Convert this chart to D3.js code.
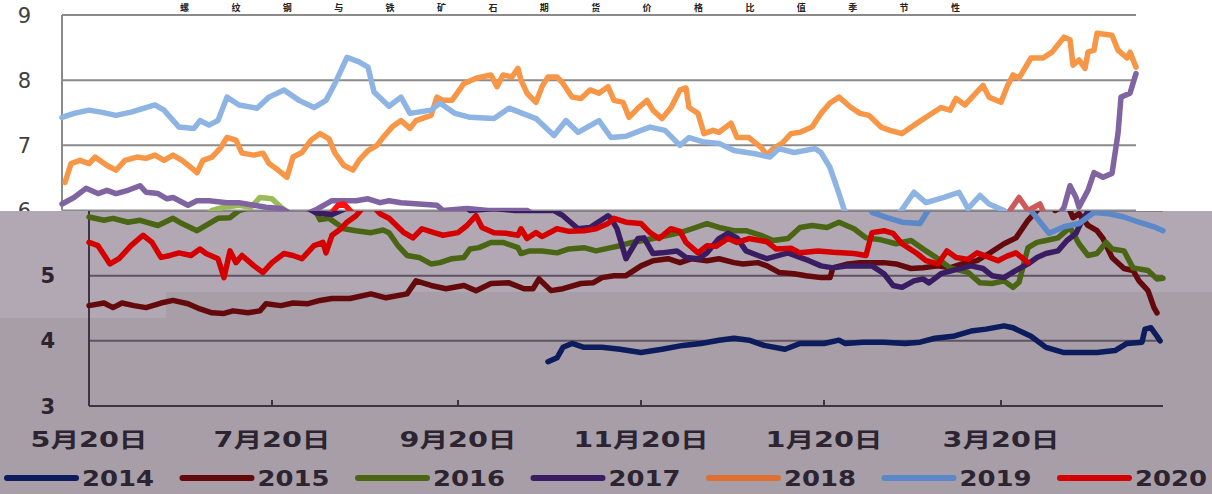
<!DOCTYPE html>
<html><head><meta charset="utf-8">
<script src="https://cdn.jsdelivr.net/npm/d3@7"></script>
<style>html,body{margin:0;padding:0;background:#fff;}svg{display:block;}</style>
</head><body><svg id="c" width="1212" height="494"></svg>
<script>
// ---- data (day offset from 5月20日, value) ----
const years = ["2014","2015","2016","2017","2018","2019","2020"];
const xTickDays = [0,61,123,184,245,304];
const xTickLabels = ["5月20日","7月20日","9月20日","11月20日","1月20日","3月20日"];
const yTicksTop = [6,7,8,9];
const yTicksBottom = [3,4,5];
const titleText = "螺纹钢与铁矿石期货价格比值季节性";

const s2014 = [[153,3.68],[156,3.74],[158,3.9],[161,3.96],[165,3.9],[171,3.9],[177,3.87],[184,3.82],[191,3.87],[198,3.93],[204,3.96],[210,4.01],[215,4.04],[220,4.01],[225,3.93],[232,3.87],[237,3.96],[245,3.96],[250,4.01],[252,3.96],[258,3.98],[265,3.98],[272,3.96],[277,3.98],[282,4.04],[288,4.07],[294,4.15],[299,4.18],[305,4.23],[308,4.2],[314,4.07],[319,3.9],[325,3.82],[331,3.82],[336,3.82],[342,3.85],[346,3.96],[351,3.98],[352,4.18],[354,4.2],[356,4.07],[357,4.0]];
const s2015 = [[0,4.54],[5,4.58],[8,4.51],[11,4.58],[15,4.54],[19,4.51],[24,4.58],[28,4.62],[33,4.57],[37,4.49],[41,4.43],[45,4.42],[48,4.46],[53,4.43],[57,4.46],[59,4.57],[64,4.54],[68,4.58],[73,4.57],[77,4.62],[81,4.65],[87,4.65],[94,4.72],[99,4.66],[106,4.72],[109,4.92],[114,4.85],[119,4.8],[125,4.85],[129,4.77],[134,4.88],[140,4.89],[145,4.8],[148,4.8],[150,4.95],[154,4.77],[158,4.8],[164,4.88],[168,4.89],[171,4.97],[175,5.0],[179,5.0],[184,5.15],[188,5.23],[193,5.26],[197,5.2],[201,5.26],[206,5.23],[210,5.26],[215,5.2],[218,5.18],[223,5.2],[226,5.15],[230,5.05],[235,5.03],[239,5.0],[244,4.97],[247,4.97],[248,5.12],[253,5.18],[257,5.2],[261,5.2],[265,5.2],[269,5.18],[274,5.11],[278,5.12],[283,5.15],[287,5.12],[291,5.18],[296,5.23],[300,5.34],[305,5.49],[309,5.58],[313,5.85],[316,6.0],[319,6.2],[322,6.0],[326,6.1],[328,5.89],[330,5.95],[333,5.77],[336,5.69],[338,5.57],[341,5.28],[345,5.11],[348,5.08],[350,4.92],[353,4.77],[355,4.51],[356,4.43]];
const s2016 = [[0,5.9],[5,5.85],[8,5.88],[13,5.82],[17,5.85],[23,5.77],[28,5.88],[31,5.8],[36,5.69],[39,5.77],[43,5.88],[47,5.89],[50,6.0],[54,6.05],[59,6.08],[63,6.05],[66,6.2],[70,6.18],[73,6.05],[76,5.95],[77,5.86],[80,5.88],[85,5.72],[89,5.69],[94,5.66],[98,5.7],[100,5.66],[103,5.46],[106,5.31],[110,5.28],[114,5.18],[117,5.2],[121,5.26],[125,5.28],[127,5.41],[130,5.43],[134,5.51],[138,5.51],[143,5.43],[144,5.34],[147,5.38],[151,5.38],[156,5.35],[160,5.41],[165,5.43],[169,5.38],[174,5.43],[177,5.46],[181,5.51],[188,5.57],[193,5.62],[197,5.66],[201,5.72],[206,5.8],[210,5.74],[215,5.69],[219,5.69],[224,5.62],[228,5.54],[233,5.57],[237,5.74],[241,5.77],[246,5.74],[250,5.82],[255,5.72],[259,5.58],[264,5.55],[269,5.49],[274,5.54],[279,5.38],[283,5.26],[287,5.12],[293,5.05],[297,4.89],[301,4.88],[305,4.92],[308,4.82],[310,4.9],[313,5.43],[316,5.51],[319,5.54],[323,5.58],[327,5.74],[330,5.49],[333,5.31],[336,5.34],[339,5.51],[341,5.41],[345,5.38],[348,5.12],[353,5.08],[356,4.95],[358,4.96]];
const s2017 = [[0,6.1],[4,6.2],[8,6.34],[12,6.26],[15,6.31],[18,6.26],[22,6.31],[26,6.38],[28,6.28],[32,6.26],[35,6.18],[37,6.2],[42,6.08],[45,6.15],[49,6.15],[55,6.12],[59,6.12],[64,6.08],[68,6.05],[73,6.03],[76,5.96],[81,5.94],[85,6.02],[90,6.15],[98,6.15],[102,6.18],[106,6.12],[109,6.15],[113,6.12],[119,6.1],[125,6.08],[127,6.0],[135,6.03],[142,6.0],[146,6.0],[155,6.0],[158,5.92],[163,5.72],[167,5.74],[173,5.92],[174,5.88],[176,5.72],[179,5.26],[183,5.57],[185,5.58],[188,5.34],[191,5.35],[196,5.38],[199,5.28],[203,5.26],[206,5.35],[210,5.57],[213,5.65],[216,5.58],[219,5.38],[223,5.31],[226,5.26],[233,5.35],[237,5.28],[240,5.23],[244,5.15],[248,5.12],[253,5.15],[261,5.15],[265,5.03],[268,4.85],[271,4.82],[275,4.92],[278,4.95],[280,4.89],[284,5.03],[288,5.08],[294,5.15],[298,5.11],[301,5.0],[305,4.97],[309,5.08],[313,5.18],[316,5.28],[319,5.34],[323,5.38],[326,5.54],[329,5.65],[331,5.85],[334,6.05],[336,6.38],[338,6.2],[339,6.05],[342,6.31],[344,6.58],[347,6.51],[350,6.57],[352,7.18],[353,7.74],[356,7.8],[358,8.1]];
const s2018 = [[1,6.43],[3,6.72],[6,6.77],[9,6.72],[11,6.82],[15,6.69],[18,6.62],[21,6.77],[25,6.82],[28,6.8],[31,6.85],[34,6.77],[37,6.85],[40,6.77],[43,6.66],[45,6.58],[47,6.77],[50,6.82],[53,6.97],[55,7.12],[58,7.08],[60,6.88],[64,6.85],[67,6.88],[69,6.72],[72,6.62],[75,6.51],[77,6.82],[80,6.89],[83,7.08],[86,7.18],[89,7.1],[91,6.88],[94,6.69],[97,6.62],[99,6.77],[102,6.92],[105,7.0],[107,7.12],[110,7.28],[113,7.38],[116,7.26],[118,7.38],[123,7.46],[125,7.74],[127,7.69],[130,7.69],[134,7.95],[138,8.03],[143,8.08],[145,7.9],[147,8.08],[150,8.05],[152,8.18],[153,8.0],[155,7.8],[158,7.66],[160,7.9],[162,8.05],[165,8.05],[167,7.95],[170,7.74],[173,7.72],[176,7.85],[179,7.8],[182,7.9],[184,7.69],[187,7.66],[189,7.43],[192,7.57],[195,7.69],[197,7.54],[200,7.41],[203,7.58],[206,7.85],[208,7.88],[209,7.58],[212,7.49],[214,7.18],[217,7.23],[219,7.2],[223,7.34],[225,7.12],[229,7.12],[233,6.97],[235,6.85],[237,6.95],[240,7.03],[243,7.18],[246,7.2],[250,7.28],[253,7.49],[256,7.65],[259,7.74],[263,7.58],[266,7.49],[269,7.46],[273,7.28],[276,7.23],[280,7.18],[284,7.31],[288,7.43],[293,7.58],[296,7.54],[298,7.72],[301,7.62],[304,7.77],[307,7.92],[309,7.74],[313,7.66],[315,7.9],[317,8.08],[319,8.03],[323,8.34],[327,8.34],[330,8.43],[334,8.66],[336,8.62],[337,8.23],[339,8.31],[341,8.18],[342,8.43],[344,8.46],[345,8.72],[350,8.69],[352,8.46],[355,8.34],[356,8.43],[358,8.2]];
const s2019 = [[0,7.43],[4,7.49],[9,7.54],[13,7.51],[18,7.46],[23,7.51],[31,7.62],[34,7.54],[39,7.28],[44,7.26],[46,7.38],[49,7.31],[52,7.38],[55,7.74],[59,7.62],[65,7.57],[69,7.74],[74,7.85],[79,7.69],[84,7.58],[88,7.69],[91,7.95],[95,8.35],[99,8.28],[102,8.2],[104,7.82],[109,7.6],[113,7.74],[116,7.49],[123,7.54],[126,7.65],[131,7.49],[136,7.43],[144,7.41],[149,7.57],[158,7.41],[164,7.15],[168,7.38],[172,7.2],[179,7.38],[183,7.12],[188,7.14],[193,7.23],[196,7.28],[201,7.23],[206,7.0],[209,7.12],[214,7.05],[219,7.03],[224,6.92],[231,6.87],[236,6.82],[239,6.95],[244,6.89],[251,6.95],[253,6.89],[256,6.66],[259,6.26],[261,5.97],[266,5.89],[271,5.82],[277,5.8],[279,5.95],[284,6.28],[288,6.12],[294,6.2],[299,6.28],[302,6.03],[306,6.23],[309,6.1],[314,6.0],[320,5.65],[325,5.75],[330,5.8],[335,5.97],[340,5.95],[345,5.9],[350,5.82],[355,5.75],[358,5.69]];
const s2020 = [[0,5.51],[3,5.46],[7,5.18],[10,5.26],[14,5.46],[18,5.62],[21,5.51],[24,5.28],[27,5.31],[30,5.35],[34,5.31],[37,5.41],[39,5.34],[43,5.26],[45,4.97],[47,5.38],[49,5.2],[51,5.31],[55,5.15],[58,5.05],[61,5.2],[65,5.34],[68,5.31],[71,5.26],[75,5.46],[78,5.51],[79,5.35],[81,5.62],[84,5.72],[86,5.82],[89,5.92],[92,6.08],[94,6.1],[97,5.95],[100,5.88],[105,5.66],[108,5.58],[111,5.72],[115,5.66],[118,5.62],[123,5.66],[126,5.77],[129,5.92],[131,5.74],[135,5.66],[139,5.65],[143,5.62],[144,5.72],[146,5.57],[149,5.66],[151,5.6],[156,5.72],[160,5.68],[165,5.69],[169,5.72],[173,5.8],[175,5.88],[179,5.82],[184,5.8],[187,5.66],[190,5.57],[194,5.72],[197,5.68],[199,5.51],[203,5.35],[206,5.46],[209,5.45],[213,5.57],[216,5.51],[220,5.57],[226,5.52],[229,5.41],[234,5.42],[237,5.35],[243,5.38],[248,5.36],[255,5.34],[259,5.31],[261,5.66],[265,5.69],[268,5.65],[271,5.49],[276,5.34],[279,5.23],[283,5.18],[286,5.38],[289,5.28],[293,5.25],[296,5.35],[299,5.3],[303,5.23],[306,5.3],[309,5.35],[313,5.2]];
const seriesData = [s2014,s2015,s2016,s2017,s2018,s2019,s2020];

// ---- styles ----
const topColors = ["#1f497d","#cc5a5a","#9bbb59","#8064a2","#f79646","#8db4e2","#ff1010"];
const botColors = ["#0c1c5c","#640a0c","#4a6614","#3a1c62","#e07030","#5a88c8","#d40000"];

const W = 1212, H = 494, split = 211;
const svg = d3.select("#c");
const defs = svg.append("defs");
defs.append("clipPath").attr("id","clipTop").append("rect").attr("x",0).attr("y",0).attr("width",W).attr("height",split);
defs.append("clipPath").attr("id","clipBot").append("rect").attr("x",0).attr("y",split).attr("width",W).attr("height",H-split);

const xTop = d3.scaleLinear().domain([0,358]).range([62,1136]);
const xBot = d3.scaleLinear().domain([0,358]).range([89,1163]);
const y = d3.scaleLinear().domain([3,9]).range([406,15]);

// ---------- top (white) panel ----------
const gT = svg.append("g").attr("clip-path","url(#clipTop)");
gT.append("rect").attr("x",0).attr("y",0).attr("width",W).attr("height",split).attr("fill","#ffffff");
svg.append("text").attr("x",570).attr("y",11).attr("text-anchor","middle").attr("font-family","Noto Sans CJK SC").attr("font-size",9)
  .attr("font-weight","bold").attr("fill","#222").attr("textLength",780).attr("lengthAdjust","spacing").text(titleText);
gT.selectAll("line.gt").data(yTicksTop).join("line")
  .attr("x1",62).attr("x2",1136).attr("y1",d=>y(d)).attr("y2",d=>y(d))
  .attr("stroke","#8a8a8a").attr("stroke-width",2);
gT.append("line").attr("x1",62).attr("x2",62).attr("y1",y(9)).attr("y2",y(6)).attr("stroke","#8a8a8a").attr("stroke-width",2);
gT.selectAll("text.yt").data(yTicksTop).join("text")
  .attr("x",31).attr("y",d=>y(d)).attr("dy","0.36em").attr("text-anchor","end")
  .attr("font-family","DejaVu Sans").attr("font-size",21).attr("fill","#404040").text(d=>d);
const lineTop = d3.line().x(d=>xTop(d[0])).y(d=>y(d[1]));
gT.selectAll("path.lt").data(seriesData).join("path")
  .attr("d",lineTop).attr("fill","none").attr("stroke",(d,i)=>topColors[i])
  .attr("stroke-width",5.5).attr("stroke-linejoin","round").attr("stroke-linecap","round");

// ---------- bottom (tinted) panel ----------
const gB = svg.append("g").attr("clip-path","url(#clipBot)");
gB.append("rect").attr("x",0).attr("y",split).attr("width",W).attr("height",H-split).attr("fill","#a79ea8");
gB.append("rect").attr("x",0).attr("y",split).attr("width",W).attr("height",292-split).attr("fill","#b2a8b3");
gB.append("rect").attr("x",0).attr("y",split).attr("width",166).attr("height",318-split).attr("fill","#b2a8b3");
gB.selectAll("line.gb").data([4,5,6]).join("line")
  .attr("x1",89).attr("x2",1163).attr("y1",d=>y(d)).attr("y2",d=>y(d))
  .attr("stroke","#5e5462").attr("stroke-width",2);
gB.append("line").attr("x1",89).attr("x2",89).attr("y1",y(6)).attr("y2",y(3)).attr("stroke","#3c3440").attr("stroke-width",2);
gB.append("line").attr("x1",89).attr("x2",1163).attr("y1",y(3)).attr("y2",y(3)).attr("stroke","#3c3440").attr("stroke-width",2);
gB.selectAll("line.tk").data(xTickDays).join("line")
  .attr("x1",d=>xBot(d)).attr("x2",d=>xBot(d)).attr("y1",y(3)).attr("y2",y(3)-6)
  .attr("stroke","#3c3440").attr("stroke-width",2);
gB.selectAll("text.yb").data(yTicksBottom).join("text")
  .attr("x",55).attr("y",d=>y(d)).attr("dy","0.36em").attr("text-anchor","end")
  .attr("font-family","DejaVu Sans").attr("font-weight","bold").attr("font-size",21).attr("fill","#2c2430").text(d=>d);
gB.selectAll("text.xl").data(xTickLabels).join("text")
  .attr("x",(d,i)=>xBot(xTickDays[i])).attr("y",447).attr("text-anchor","middle")
  .attr("font-family","DejaVu Sans, Noto Sans CJK SC").attr("font-weight","bold").attr("font-size",21).attr("fill","#2c2430")
  .attr("textLength",d=>d.length>5?135:117).attr("lengthAdjust","spacingAndGlyphs").text(d=>d);
const lineBot = d3.line().x(d=>xBot(d[0])).y(d=>y(d[1]));
gB.selectAll("path.lb").data(seriesData).join("path")
  .attr("d",lineBot).attr("fill","none").attr("stroke",(d,i)=>botColors[i])
  .attr("stroke-width",5.5).attr("stroke-linejoin","round").attr("stroke-linecap","round");

// legend
const lg = gB.selectAll("g.lg").data(years).join("g").attr("transform",(d,i)=>`translate(${5+i*175.5},478)`);
lg.append("line").attr("x1",2).attr("x2",71).attr("y1",0).attr("y2",0)
  .attr("stroke",(d,i)=>botColors[i]).attr("stroke-width",6).attr("stroke-linecap","round");
lg.append("text").attr("x",77).attr("y",0).attr("dy","0.36em")
  .attr("font-family","DejaVu Sans").attr("font-weight","bold").attr("font-size",22).attr("fill","#2c2430")
  .attr("textLength",72).attr("lengthAdjust","spacingAndGlyphs").text(d=>d);
</script></body></html>
